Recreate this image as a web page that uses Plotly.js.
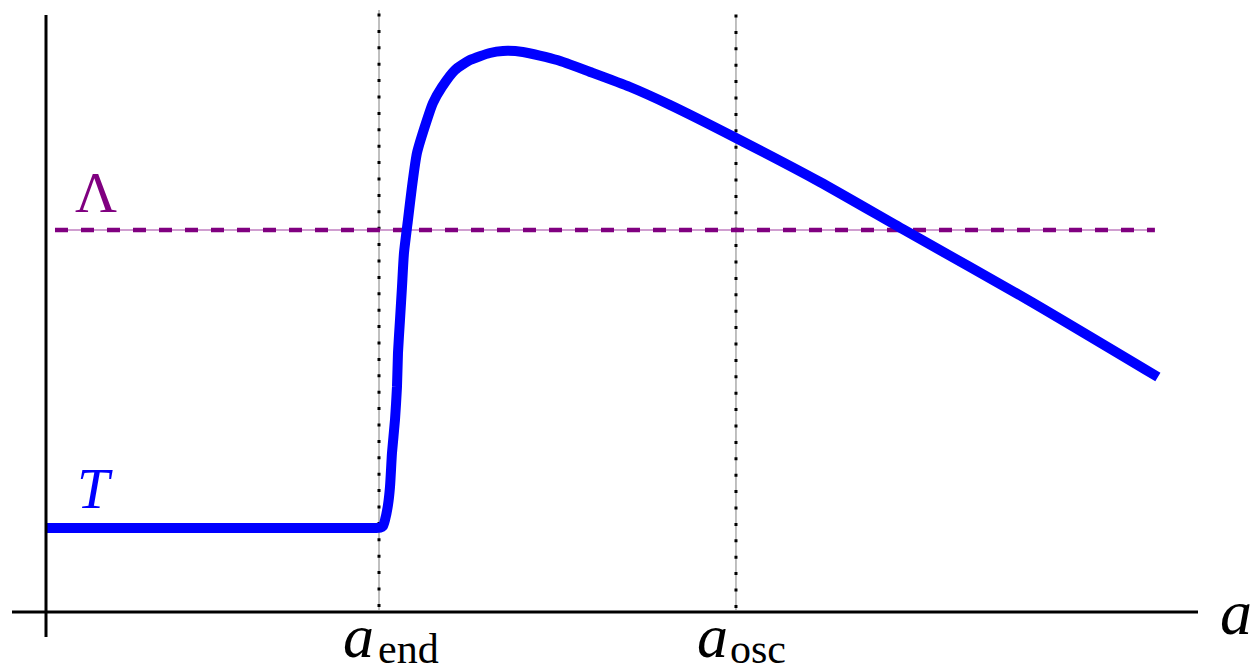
<!DOCTYPE html>
<html>
<head>
<meta charset="utf-8">
<script src="https://cdn.plot.ly/plotly-3.0.1.min.js"></script>
<style>html,body{margin:0;padding:0;background:#fff;}#chart{width:1253px;height:672px;}</style>
</head>
<body>
<div id="chart"></div>
<script>
// ---- data (arbitrary units: a_end = 1, initial T = 1) ----
const aValues = [0, 0.990, 1.003, 1.012, 1.018, 1.027, 1.033, 1.039, 1.048, 1.054, 1.057, 1.063, 1.069, 1.075, 1.087, 1.099, 1.114, 1.144, 1.162, 1.189, 1.228, 1.273, 1.333, 1.372, 1.432, 1.535, 1.634, 1.754, 1.874, 2.072, 2.324, 2.577, 2.955, 3.339];
const TValues = [1, 1, 1.004, 1.024, 1.095, 1.274, 1.488, 1.893, 2.286, 2.679, 3.083, 3.476, 3.869, 4.274, 4.667, 5.060, 5.464, 5.857, 6.060, 6.250, 6.452, 6.571, 6.655, 6.679, 6.667, 6.571, 6.429, 6.250, 6.036, 5.643, 5.119, 4.548, 3.702, 2.798];
const aEnd = 1.0;
const aOsc = 2.072;
const lambdaLevel = 4.548;
const lambdaSpan = [0.027, 3.330];
const markLabels = ["end", "osc"];

// ---- geometry helpers (layout only) ----
const W = 1253, H = 672;
const xr = [-46/333, (W-46)/333];
const yr = [-(H-612)/84, 612/84];
const fromPx = px => xr[0] + px/W*(xr[1]-xr[0]);
const fromPy = py => yr[1] - py/H*(yr[1]-yr[0]);

const serif = '"Liberation Serif", "DejaVu Serif", serif';

const traces = [];
// vertical reference lines: thin grey line + black dots
[[aEnd, 10, 13.5], [aOsc, 15, 14.5]].forEach(([xv, top, dotTop]) => {
  traces.push({x: [xv, xv], y: [fromPy(top), fromPy(610)], mode: 'lines',
    line: {color: '#808080', width: 1}, hoverinfo: 'skip', showlegend: false});
  traces.push({x: [xv, xv], y: [fromPy(dotTop), fromPy(610)], mode: 'lines',
    line: {color: '#000000', width: 3, dash: '3px,13.4px'}, hoverinfo: 'skip', showlegend: false});
});
// Lambda line: thin light purple + dark purple dashes
traces.push({x: lambdaSpan, y: [lambdaLevel, lambdaLevel], mode: 'lines',
  line: {color: '#c07ec0', width: 1.5}, hoverinfo: 'skip', showlegend: false});
traces.push({x: lambdaSpan, y: [lambdaLevel, lambdaLevel], mode: 'lines',
  line: {color: '#800080', width: 4.5, dash: '13px,13px'}, hoverinfo: 'skip', showlegend: false});
// T curve
traces.push({x: aValues, y: TValues, mode: 'lines',
  line: {color: '#0000ff', width: 10, shape: 'spline', smoothing: 0.6}, hoverinfo: 'skip', showlegend: false});

const ann = (text, px, py, size, color, extra) => Object.assign({
  text: text, xref: 'x', yref: 'y', x: fromPx(px), y: fromPy(py),
  showarrow: false, xanchor: 'center', yanchor: 'middle',
  font: {family: serif, size: size, color: color}
}, extra || {});

const layout = {
  width: W, height: H,
  margin: {l: 0, r: 0, t: 0, b: 0},
  paper_bgcolor: '#ffffff', plot_bgcolor: '#ffffff',
  xaxis: {range: xr, visible: false, fixedrange: true},
  yaxis: {range: yr, visible: false, fixedrange: true},
  shapes: [
    {type: 'line', xref: 'x', yref: 'y', x0: 0, x1: 0, y0: fromPy(15), y1: fromPy(637), line: {color: '#000', width: 3}},
    {type: 'line', xref: 'x', yref: 'y', x0: fromPx(12), x1: fromPx(1198), y0: 0, y1: 0, line: {color: '#000', width: 3}}
  ],
  annotations: [
    ann('Λ', 96, 192, 58, '#800080'),
    ann('<i>T</i>', 95, 488, 58, '#0000ff'),
    ann('<i>a</i>', 1236, 612, 64, '#000'),
    ann('<i>a</i>', 358, 636, 62, '#000'),
    ann(markLabels[0], 408, 649, 42, '#000'),
    ann('<i>a</i>', 712, 636, 62, '#000'),
    ann(markLabels[1], 758, 649, 42, '#000')
  ]
};

Plotly.newPlot('chart', traces, layout, {staticPlot: true, displayModeBar: false});
</script>
</body>
</html>
